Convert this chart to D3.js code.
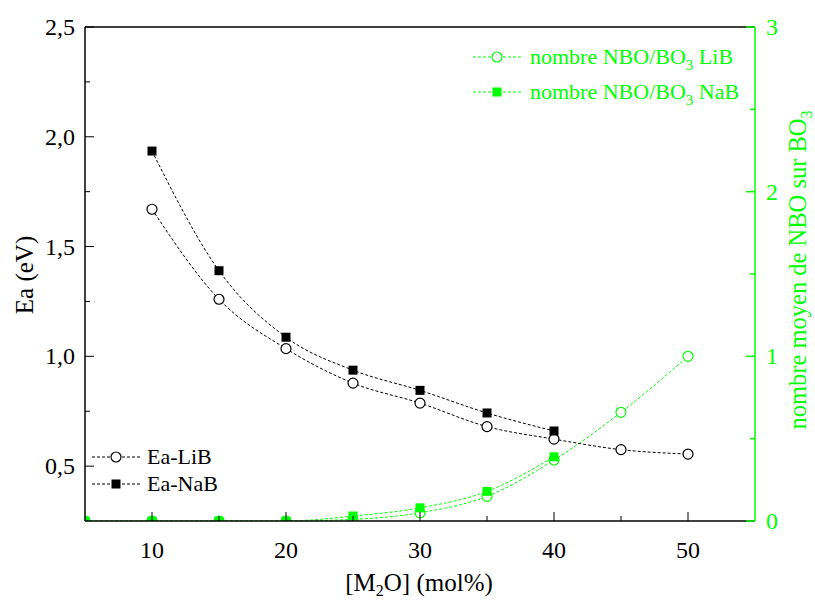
<!DOCTYPE html>
<html><head><meta charset="utf-8">
<script src="https://cdn.jsdelivr.net/npm/d3@7"></script>
<style>body{margin:0;background:#fff}</style>
</head><body><svg id="c" width="815" height="604"></svg>
<script>
const xCats = [5, 10, 15, 20, 25, 30, 35, 40, 45, 50];
const eaLiB = [null, 1.67, 1.26, 1.035, 0.878, 0.787, 0.68, 0.623, 0.575, 0.555];
const eaNaB = [null, 1.935, 1.39, 1.087, 0.937, 0.845, 0.742, 0.66, null, null];
const nboLiB = [0, 0, 0, 0, 0.01, 0.05, 0.15, 0.37, 0.66, 1.0];
const nboNaB = [0, 0, 0, 0, 0.03, 0.08, 0.18, 0.39, null, null];
const xTicks = [10, 20, 30, 40, 50];
const yLeftTicks = [0.5, 1.0, 1.5, 2.0, 2.5];
const yRightTicks = [0, 1, 2, 3];
const GREEN = "#00ff00";
const FONT = "Liberation Serif";

const svg = d3.select("#c");
const L = 85, R = 755, T = 27, B = 521;
const x = d3.scaleLinear().domain([5, 55]).range([L, R]);
const yL = d3.scaleLinear().domain([0.25, 2.5]).range([B, T]);
const yR = d3.scaleLinear().domain([0, 3]).range([B, T]);
const fmt = d => d3.format(".1f")(d).replace(".", ",");

function txt(sel, size) {
  return sel.append("text").style("font-family", FONT).style("font-size", size + "px");
}

svg.append("defs").append("clipPath").attr("id", "plot")
  .append("rect").attr("x", L).attr("y", T).attr("width", R - L).attr("height", B - T);
const plot = svg.append("g").attr("clip-path", "url(#plot)");

function series(vals, y, color, marker) {
  const pts = xCats.map((c, i) => [c, vals[i]]).filter(d => d[1] !== null);
  plot.append("path").datum(pts)
    .attr("d", d3.line().x(d => x(d[0])).y(d => y(d[1])).curve(d3.curveMonotoneX))
    .attr("fill", "none").attr("stroke", color).attr("stroke-width", 1)
    .attr("stroke-dasharray", "3,2");
  const g = plot.append("g");
  pts.forEach(d => {
    if (marker === "circle") {
      g.append("circle").attr("cx", x(d[0])).attr("cy", y(d[1])).attr("r", 5)
        .attr("fill", "#fff").attr("stroke", color).attr("stroke-width", 1.2);
    } else {
      g.append("rect").attr("x", x(d[0]) - 4.5).attr("y", y(d[1]) - 4.5)
        .attr("width", 9).attr("height", 9).attr("fill", color);
    }
  });
}
series(nboLiB, yR, GREEN, "circle");
series(nboNaB, yR, GREEN, "square");
series(eaLiB, yL, "#000", "circle");
series(eaNaB, yL, "#000", "square");

const ax = svg.append("g");
ax.append("line").attr("x1", L).attr("x2", R).attr("y1", B).attr("y2", B).attr("stroke", "#000").attr("stroke-width", 1.5);
ax.append("line").attr("x1", L).attr("x2", R).attr("y1", T).attr("y2", T).attr("stroke", "#000").attr("stroke-width", 1.5);
ax.append("line").attr("x1", L).attr("x2", L).attr("y1", T).attr("y2", B).attr("stroke", "#000").attr("stroke-width", 1.5);
ax.append("line").attr("x1", R).attr("x2", R).attr("y1", T).attr("y2", B).attr("stroke", GREEN).attr("stroke-width", 1.5);

d3.range(10, 55, 5).forEach(v => {
  const major = v % 10 === 0;
  ax.append("line").attr("x1", x(v)).attr("x2", x(v)).attr("y1", B).attr("y2", B - (major ? 9 : 5)).attr("stroke", "#000");
});
xTicks.forEach(v => {
  txt(ax, 24).attr("x", x(v)).attr("y", 558).attr("text-anchor", "middle").text(v);
});
d3.range(0.5, 2.51, 0.25).forEach(v => {
  const major = Math.abs(v * 2 - Math.round(v * 2)) < 1e-6;
  ax.append("line").attr("x1", L).attr("x2", L + (major ? 9 : 5)).attr("y1", yL(v)).attr("y2", yL(v)).attr("stroke", "#000");
});
yLeftTicks.forEach(v => {
  txt(ax, 24).attr("x", 75).attr("y", yL(v) + 8).attr("text-anchor", "end").text(fmt(v));
});
d3.range(0, 3.01, 0.5).forEach(v => {
  const major = Number.isInteger(v);
  ax.append("line").attr("x1", R).attr("x2", R - (major ? 9 : 5)).attr("y1", yR(v)).attr("y2", yR(v)).attr("stroke", GREEN).attr("stroke-width", 1.5);
});
yRightTicks.forEach(v => {
  txt(ax, 24).attr("x", 766).attr("y", yR(v) + 8).attr("text-anchor", "start").attr("fill", GREEN).text(v);
});

txt(svg, 25).attr("transform", "translate(33,275) rotate(-90)").attr("text-anchor", "middle").text("Ea (eV)");
const rt = txt(svg, 24.5).attr("transform", "translate(806,270) rotate(-90)").attr("text-anchor", "middle").attr("fill", GREEN);
rt.append("tspan").text("nombre moyen de NBO sur BO");
rt.append("tspan").style("font-size", "16px").attr("dy", 6).text("3");
const xt = txt(svg, 25).attr("x", 419).attr("y", 591).attr("text-anchor", "middle");
xt.append("tspan").text("[M");
xt.append("tspan").style("font-size", "16px").attr("dy", 5).text("2");
xt.append("tspan").attr("dy", -5).text("O] (mol%)");

function legendItem(x0, y0, color, marker, parts, tx) {
  svg.append("line").attr("x1", x0).attr("x2", x0 + 48).attr("y1", y0).attr("y2", y0)
    .attr("stroke", color).attr("stroke-dasharray", "3,2");
  const cx = x0 + 24;
  if (marker === "circle") svg.append("circle").attr("cx", cx).attr("cy", y0).attr("r", 5).attr("fill", "#fff").attr("stroke", color).attr("stroke-width", 1.2);
  else svg.append("rect").attr("x", cx - 4.5).attr("y", y0 - 4.5).attr("width", 9).attr("height", 9).attr("fill", color);
  const t = txt(svg, 22).attr("x", tx).attr("y", y0 + 7).attr("fill", color);
  parts.forEach(p => {
    const s = t.append("tspan").text(p.t);
    if (p.sub) s.style("font-size", "15px").attr("dy", 6); else if (p.after) s.attr("dy", -6);
  });
}
legendItem(473, 57, GREEN, "circle", [{t: "nombre NBO/BO"}, {t: "3", sub: true}, {t: " LiB", after: true}], 530);
legendItem(473, 92, GREEN, "square", [{t: "nombre NBO/BO"}, {t: "3", sub: true}, {t: " NaB", after: true}], 530);
legendItem(92, 457, "#000", "circle", [{t: "Ea-LiB"}], 147);
legendItem(92, 484, "#000", "square", [{t: "Ea-NaB"}], 147);
</script></body></html>
